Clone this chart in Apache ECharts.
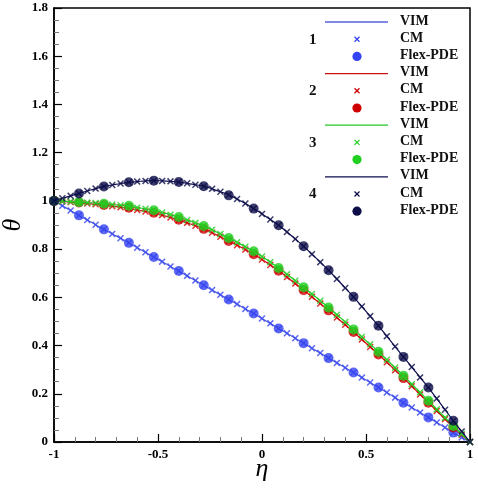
<!DOCTYPE html>
<html>
<head>
<meta charset="utf-8">
<script src="https://cdn.jsdelivr.net/npm/echarts@6/dist/echarts.min.js"></script>
<style>
  html, body { margin: 0; padding: 0; background: #fff; }
  #chart { width: 478px; height: 488px; }
</style>
</head>
<body>
<div id="chart"></div>
<script>
// eta positions of the VIM / CM points (every 0.04)
const etaFine = [-1, -0.96, -0.92, -0.88, -0.84, -0.8, -0.76, -0.72, -0.68, -0.64, -0.6, -0.56, -0.52, -0.48, -0.44, -0.4,
  -0.36, -0.32, -0.28, -0.24, -0.2, -0.16, -0.12, -0.08, -0.04, 0, 0.04, 0.08, 0.12, 0.16, 0.2, 0.24, 0.28, 0.32,
  0.36, 0.4, 0.44, 0.48, 0.52, 0.56, 0.6, 0.64, 0.68, 0.72, 0.76, 0.8, 0.84, 0.88, 0.92, 0.96, 1];
// eta positions of the Flex-PDE points (every 0.12)
const etaPde = [-1, -0.88, -0.76, -0.64, -0.52, -0.4, -0.28, -0.16, -0.04, 0.08, 0.2, 0.32, 0.44, 0.56, 0.68, 0.8, 0.92];

const vim1 = [1.000, 0.980, 0.960, 0.940, 0.921, 0.901, 0.882, 0.863, 0.845, 0.826, 0.806, 0.787, 0.767, 0.748, 0.728, 0.709,
  0.689, 0.670, 0.650, 0.630, 0.611, 0.591, 0.572, 0.552, 0.533, 0.512, 0.492, 0.471, 0.451, 0.430, 0.410, 0.389, 0.369, 0.348,
  0.328, 0.308, 0.288, 0.267, 0.247, 0.226, 0.205, 0.184, 0.163, 0.143, 0.122, 0.102, 0.081, 0.060, 0.039, 0.019, 0.000];
const vim2 = [1.000, 0.998, 0.995, 0.992, 0.989, 0.986, 0.982, 0.978, 0.974, 0.969, 0.962, 0.956, 0.950, 0.941, 0.931, 0.921,
  0.909, 0.897, 0.884, 0.868, 0.851, 0.834, 0.816, 0.798, 0.779, 0.757, 0.734, 0.710, 0.684, 0.657, 0.630, 0.602, 0.574, 0.546,
  0.516, 0.486, 0.456, 0.425, 0.394, 0.363, 0.331, 0.298, 0.265, 0.231, 0.197, 0.163, 0.129, 0.095, 0.061, 0.030, 0.000];
const vim3 = [1.000, 0.999, 0.997, 0.995, 0.993, 0.991, 0.988, 0.985, 0.982, 0.978, 0.972, 0.967, 0.961, 0.952, 0.943, 0.933,
  0.921, 0.909, 0.896, 0.880, 0.863, 0.846, 0.828, 0.810, 0.791, 0.769, 0.746, 0.722, 0.696, 0.669, 0.642, 0.614, 0.586, 0.558,
  0.528, 0.498, 0.467, 0.436, 0.405, 0.374, 0.341, 0.308, 0.275, 0.240, 0.206, 0.171, 0.136, 0.101, 0.066, 0.033, 0.000];
const vim4 = [1.000, 1.011, 1.021, 1.031, 1.041, 1.051, 1.060, 1.066, 1.072, 1.077, 1.080, 1.083, 1.084, 1.083, 1.081, 1.078,
  1.073, 1.067, 1.061, 1.050, 1.038, 1.025, 1.008, 0.989, 0.968, 0.946, 0.923, 0.899, 0.871, 0.842, 0.812, 0.779, 0.746, 0.712,
  0.676, 0.639, 0.602, 0.562, 0.522, 0.482, 0.439, 0.396, 0.353, 0.311, 0.268, 0.226, 0.180, 0.134, 0.088, 0.044, 0.000];

// CM points sit on the VIM curves at plotting precision
const cm1 = vim1, cm2 = vim2, cm3 = vim3, cm4 = vim4;

const pde1 = [1.000, 0.940, 0.882, 0.826, 0.767, 0.709, 0.650, 0.591, 0.533, 0.471, 0.410, 0.348, 0.288, 0.226, 0.163, 0.102, 0.039];
const pde2 = [1.000, 0.993, 0.983, 0.972, 0.951, 0.922, 0.884, 0.834, 0.779, 0.710, 0.630, 0.546, 0.456, 0.363, 0.265, 0.163, 0.060];
const pde3 = [1.000, 0.995, 0.988, 0.980, 0.961, 0.933, 0.896, 0.846, 0.791, 0.722, 0.642, 0.558, 0.467, 0.374, 0.275, 0.171, 0.066];
const pde4 = [1.000, 1.031, 1.060, 1.077, 1.084, 1.078, 1.061, 1.023, 0.968, 0.899, 0.812, 0.712, 0.602, 0.482, 0.353, 0.226, 0.088];

const caseLabels = ["1", "2", "3", "4"];
const legendNames = ["VIM", "CM", "Flex-PDE"];
const lineColors = ["#5560dc", "#cc1010", "#22c822", "#0c0c4e"];
const markColors = ["#3444f0", "#d00000", "#20d020", "#0c0c48"];

const cross = "path://M0,1.5L1.5,0L5,3.5L8.5,0L10,1.5L6.5,5L10,8.5L8.5,10L5,6.5L1.5,10L0,8.5L3.5,5Z";
const font = "'Liberation Serif', 'Times New Roman', serif";

const pairs = (xs, ys) => xs.map((x, i) => [x, ys[i]]);
const vims = [vim1, vim2, vim3, vim4];
const cms = [cm1, cm2, cm3, cm4];
const pdes = [pde1, pde2, pde3, pde4];

const series = [];
for (let k = 0; k < 4; k++) {
    series.push({
        type: "line", data: pairs(etaFine, vims[k]), smooth: true, symbol: "none",
        lineStyle: { color: lineColors[k], width: 1.2 }, z: 2 + k * 3, silent: true
    });
    series.push({
        type: "scatter", data: pairs(etaFine, cms[k]), symbol: cross, symbolSize: 7,
        itemStyle: { color: markColors[k] }, z: 3 + k * 3, silent: true
    });
    series.push({
        type: "scatter", data: pairs(etaPde, pdes[k]), symbol: "circle", symbolSize: 10,
        itemStyle: { color: markColors[k] }, z: 4 + k * 3, silent: true
    });
}

// custom legend block: case number, line / cross / dot and the method name
const graphic = [];
const rowStep = 17.2;
for (let k = 0; k < 4; k++) {
    const y0 = 22 + k * 3 * rowStep;
    graphic.push({
        type: "text", left: 309, top: y0 + rowStep - 7,
        style: { text: caseLabels[k], font: "bold 15px " + font, fill: "#111" }
    });
    graphic.push({
        type: "line", shape: { x1: 325, y1: y0, x2: 388, y2: y0 },
        style: { stroke: lineColors[k], lineWidth: 1.3 }
    });
    const cy = y0 + rowStep;
    graphic.push({
        type: "line", shape: { x1: 354.5, y1: cy - 2.5, x2: 359.5, y2: cy + 2.5 },
        style: { stroke: markColors[k], lineWidth: 1.3 }
    });
    graphic.push({
        type: "line", shape: { x1: 359.5, y1: cy - 2.5, x2: 354.5, y2: cy + 2.5 },
        style: { stroke: markColors[k], lineWidth: 1.3 }
    });
    graphic.push({
        type: "circle", shape: { cx: 357, cy: y0 + 2 * rowStep, r: 4.6 },
        style: { fill: markColors[k] }
    });
    legendNames.forEach((name, j) => {
        graphic.push({
            type: "text", left: 400, top: y0 + j * rowStep - 8,
            style: { text: name, font: "bold 14px " + font, fill: "#111" }
        });
    });
}

const chart = echarts.init(document.getElementById("chart"));
chart.setOption({
    animation: false,
    backgroundColor: "#fff",
    grid: {
        left: 54, right: 8, top: 8, bottom: 46, outerBoundsMode: "none", containLabel: false,
        show: true, borderColor: "#000", borderWidth: 1.5, backgroundColor: "transparent"
    },
    xAxis: {
        type: "value", min: -1, max: 1, interval: 0.5,
        name: "η", nameLocation: "middle", nameGap: 14, nameMoveOverlap: false,
        nameTextStyle: { fontFamily: font, fontStyle: "italic", fontSize: 26, color: "#000" },
        axisLine: { onZero: false, lineStyle: { color: "#000", width: 1.5 } },
        axisTick: { inside: true, length: 8, lineStyle: { color: "#000", width: 1.2 } },
        minorTick: { show: true, splitNumber: 5, length: 5, lineStyle: { color: "#777", width: 1 } },
        axisLabel: { fontFamily: font, fontWeight: "bold", fontSize: 13, color: "#000", margin: 6 },
        splitLine: { show: false }
    },
    yAxis: {
        type: "value", min: 0, max: 1.8, interval: 0.2,
        name: "θ", nameLocation: "middle", nameGap: 28, nameRotate: 90, nameMoveOverlap: false,
        nameTextStyle: { fontFamily: font, fontStyle: "italic", fontSize: 26, color: "#000" },
        axisLine: { onZero: false, lineStyle: { color: "#000", width: 1.5 } },
        axisTick: { inside: true, length: 8, lineStyle: { color: "#000", width: 1.2 } },
        minorTick: { show: true, splitNumber: 4, length: 5, lineStyle: { color: "#777", width: 1 } },
        axisLabel: { fontFamily: font, fontWeight: "bold", fontSize: 13, color: "#000", margin: 6 },
        splitLine: { show: false }
    },
    series: series,
    graphic: graphic
});
</script>
</body>
</html>
